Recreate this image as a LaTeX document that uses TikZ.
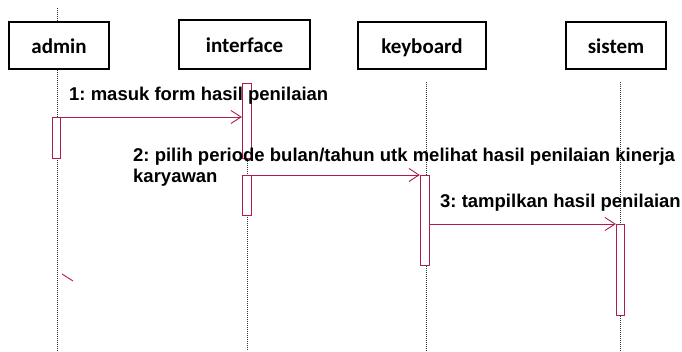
\documentclass[tikz,border=0pt]{standalone}
\usepackage{fontspec}
\setmainfont{Liberation Sans}
\newfontfamily\boxfont{Carlito}
\usetikzlibrary{arrows.meta}
\frenchspacing
\definecolor{msg}{RGB}{172,30,82}
\tikzset{
  objbox/.style={draw=black, line width=1.4pt, minimum height=47pt, inner sep=0pt, text height=15pt, text depth=0pt, font=\boxfont\bfseries\fontsize{21}{25}\selectfont},
  lifeline/.style={draw=black!80, line width=0.6pt, dash pattern=on 1pt off 1pt},
  actbox/.style={draw=msg, line width=0.9pt, fill=white},
  msgarrow/.style={draw=msg, line width=0.9pt, -{Straight Barb[length=10pt,width=13pt,line width=0.9pt]}},
  msglabel/.style={font=\bfseries\fontsize{18.5}{22}\selectfont, inner sep=0pt, anchor=west, align=left},
}
\begin{document}
\begin{tikzpicture}[x=1pt,y=-1pt]
\useasboundingbox (0,0) rectangle (682,351);
% lifelines
\coordinate (adminTop) at (57,8);
\coordinate (adminBot) at (57,351);
\coordinate (intTop) at (247,83);
\coordinate (intBot) at (247,351);
\coordinate (keyTop) at (426,82);
\coordinate (keyBot) at (426,351);
\coordinate (sisTop) at (620,82);
\coordinate (sisBot) at (620,351);
\draw[lifeline] (adminTop) -- (adminBot);
\draw[lifeline] (intTop) -- (intBot);
\draw[lifeline] (keyTop) -- (keyBot);
\draw[lifeline] (sisTop) -- (sisBot);
% object boxes
\node[objbox, fill=white, minimum width=100pt] (admin) at (59,45.5) {admin};
\node[objbox, fill=white, minimum width=131pt, minimum height=49pt] (interface) at (244.5,44.5) {interface};
\node[objbox, fill=white, minimum width=128pt] (keyboard) at (422,45.5) {keyboard};
\node[objbox, fill=white, minimum width=100pt] (sistem) at (616,45.5) {sistem};
% activations
\draw[actbox] (242,83) rectangle (251,158);
\node[inner sep=0pt, minimum width=9pt, minimum height=75pt] (actInt1) at (246.5,120.5) {};
\draw[actbox] (52,117) rectangle (60,158);
\node[inner sep=0pt, minimum width=8pt, minimum height=41pt] (actAdmin) at (56,137.5) {};
\draw[actbox] (242,175) rectangle (251,215);
\node[inner sep=0pt, minimum width=9pt, minimum height=40pt] (actInt2) at (246.5,195) {};
\draw[actbox] (420,175) rectangle (429,265);
\node[inner sep=0pt, minimum width=9pt, minimum height=90pt] (actKey) at (424.5,220) {};
\draw[actbox] (616,224) rectangle (624,315);
\node[inner sep=0pt, minimum width=8pt, minimum height=91pt] (actSis) at (620,269.5) {};
% messages
\draw[msgarrow] (actAdmin.east |- 0,117) -- (actInt1.west |- 0,117);
\draw[msgarrow] (actInt2.east |- 0,175) -- (actKey.west |- 0,175);
\draw[msgarrow] (actKey.east |- 0,224) -- (actSis.west |- 0,224);
% labels
\node[msglabel] (l1) at (69,96) {1: masuk form hasil penilaian};
\node[msglabel] (l2) at (133,157) {2: pilih periode bulan/tahun utk melihat hasil penilaian kinerja};
\node[msglabel] (l2b) at (133,178) {karyawan};
\node[msglabel] (l3) at (440,203) {3: tampilkan hasil penilaian};
% stray mark
\coordinate (s1) at (62,274);
\coordinate (s2) at (73,281);
\draw[msg, line width=0.9pt] (s1) -- (s2);
\end{tikzpicture}
\end{document}
